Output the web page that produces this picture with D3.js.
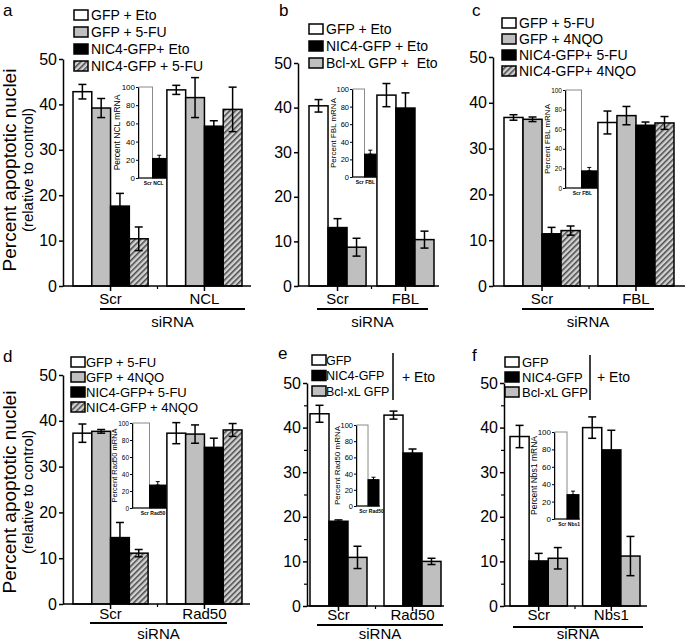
<!DOCTYPE html>
<html>
<head>
<meta charset="utf-8">
<script src="https://cdn.jsdelivr.net/npm/d3@7"></script>
<style>
body { margin: 0; background: #fff; }
text { font-family: "Liberation Sans", Arial, sans-serif; fill: #000; }
</style>
</head>
<body>
<div id="chart"></div>
<script>
// ---- data ----
const yTicks = [0, 10, 20, 30, 40, 50];
const yMinor = [5, 15, 25, 35, 45];
const insetTicks = [0, 20, 40, 60, 80, 100];

// panel a
const groupsA = ["Scr", "NCL"];
const seriesA = ["GFP + Eto", "GFP + 5-FU", "NIC4-GFP+ Eto", "NIC4-GFP + 5-FU"];
const meansA = [[42.8, 39.2, 17.6, 10.4], [43.2, 41.5, 35.2, 38.9]];
const errsA = [[1.6, 2.1, 2.8, 2.6], [1.0, 4.4, 1.2, 4.9]];
const insetA = [100, 21.5];
const insetErrA = [0, 3.5];

// panel b
const groupsB = ["Scr", "FBL"];
const seriesB = ["GFP + Eto", "NIC4-GFP + Eto", "Bcl-xL GFP +  Eto"];
const meansB = [[40.4, 13.1, 8.7], [42.8, 39.9, 10.4]];
const errsB = [[1.4, 2.0, 2.0], [2.6, 3.4, 1.9]];
const insetB = [100, 26];
const insetErrB = [0, 4.5];

// panel c
const groupsC = ["Scr", "FBL"];
const seriesC = ["GFP + 5-FU", "GFP + 4NQO", "NIC4-GFP+ 5-FU", "NIC4-GFP+ 4NQO"];
const meansC = [[36.8, 36.4, 11.4, 12.1], [35.7, 37.2, 35.1, 35.6]];
const errsC = [[0.6, 0.5, 1.4, 1.0], [2.5, 2.0, 0.7, 1.4]];
const insetC = [100, 17.5];
const insetErrC = [0, 3.5];

// panel d
const groupsD = ["Scr", "Rad50"];
const seriesD = ["GFP + 5-FU", "GFP + 4NQO", "NIC4-GFP+ 5-FU", "NIC4-GFP + 4NQO"];
const meansD = [[37.3, 37.7, 14.5, 11.1], [37.3, 37.1, 34.2, 38.0]];
const errsD = [[2.0, 0.4, 3.3, 0.8], [2.3, 2.0, 2.0, 1.4]];
const insetD = [100, 27];
const insetErrD = [0, 4];

// panel e
const groupsE = ["Scr", "Rad50"];
const seriesE = ["GFP", "NIC4-GFP", "Bcl-xL GFP"];
const meansE = [[43.1, 19.0, 10.9], [42.8, 34.3, 10.0]];
const errsE = [[1.9, 0.3, 2.5], [0.9, 0.9, 0.7]];
const insetE = [100, 32.5];
const insetErrE = [0, 3];

// panel f
const groupsF = ["Scr", "Nbs1"];
const seriesF = ["GFP", "NIC4-GFP", "Bcl-xL GFP"];
const meansF = [[38.0, 10.1, 10.7], [40.0, 35.0, 11.2]];
const errsF = [[2.5, 1.7, 2.4], [2.4, 4.4, 4.4]];
const insetF = [100, 28];
const insetErrF = [0, 4];

// ---- styles ----
const WH = "#fff", GR = "#bfbfbf", BK = "#000", HT = "url(#hatch)";
const font = '"Liberation Sans", Arial, sans-serif';

const svg = d3.select("#chart").append("svg")
  .attr("width", 685).attr("height", 642)

const pat = svg.append("defs").append("pattern")
  .attr("id", "hatch")
  .attr("patternUnits", "userSpaceOnUse")
  .attr("width", 4).attr("height", 4)
  .attr("patternTransform", "rotate(45)")
pat.append("rect").attr("width", 4).attr("height", 4).attr("fill", "#d2d2d2")
pat.append("line").attr("x1", 0.8).attr("x2", 0.8).attr("y1", 0).attr("y2", 4)
  .attr("stroke", "#3c3c3c").attr("stroke-width", 1.4)

const panels = [
  { key: "a", groups: groupsA, series: seriesA, means: meansA, errs: errsA, inset: insetA, insetErr: insetErrA,
    insetTitle: "Percent NCL mRNA", fills: [WH, GR, BK, HT],
    lay: { letter: [3, 16], ax: 63, axEnd: 251, y0: 286, y50: 59, gRange: [73, 242], pad: 0.2, minor: false,
      catY: 304, line: [100, 245, 309], siY: 327,
      leg: { x: 74, y: 15, dy: 17, tx: 91, fs: 14 },
      ins: { ax: 138, y0: 178, y100: 87, x: [139, 166], tb: 120, fs: 8, ts: 8.5 }, ytitle: 170 } },
  { key: "b", groups: groupsB, series: seriesB, means: meansB, errs: errsB, inset: insetB, insetErr: insetErrB,
    insetTitle: "Percent FBL mRNA", fills: [WH, BK, GR],
    lay: { letter: [279, 16], ax: 298, axEnd: 439, y0: 286, y50: 63, gRange: [309, 434], pad: 0.16, minor: false,
      catY: 304, line: [317, 428, 309], siY: 327,
      leg: { x: 309, y: 29, dy: 17, tx: 326, fs: 14 },
      ins: { ax: 352, y0: 177, y100: 89, x: [353, 376], tb: 336, fs: 7.5, ts: 8 } } },
  { key: "c", groups: groupsC, series: seriesC, means: meansC, errs: errsC, inset: insetC, insetErr: insetErrC,
    insetTitle: "Percent FBL mRNA", fills: [WH, GR, BK, HT],
    lay: { letter: [472, 16], ax: 493, axEnd: 685, y0: 286, y50: 57, gRange: [504, 674], pad: 0.19, minor: false,
      catY: 304, line: [522, 654, 309], siY: 327,
      leg: { x: 502, y: 23, dy: 16, tx: 519, fs: 14 },
      ins: { ax: 565, y0: 188, y100: 90, x: [566, 597], tb: 550, fs: 6.5, ts: 8 } } },
  { key: "d", groups: groupsD, series: seriesD, means: meansD, errs: errsD, inset: insetD, insetErr: insetErrD,
    insetTitle: "Percent Rad50 mRNA", fills: [WH, GR, BK, HT],
    lay: { letter: [3, 362], ax: 63, axEnd: 250, y0: 604, y50: 375, gRange: [73, 242], pad: 0.2, minor: false,
      catY: 619, line: [90, 227, 623], siY: 638.5,
      leg: { x: 71, y: 362, dy: 15, tx: 86, fs: 13 },
      ins: { ax: 132, y0: 508, y100: 423, x: [133, 166], tb: 117, fs: 6.5, ts: 7.5 }, ytitle: 492 } },
  { key: "e", groups: groupsE, series: seriesE, means: meansE, errs: errsE, inset: insetE, insetErr: insetErrE,
    insetTitle: "Percent Rad50 mRNA", fills: [WH, BK, GR],
    lay: { letter: [278, 359], ax: 307, axEnd: 444, y0: 606, y50: 383, gRange: [310, 441], pad: 0.23, minor: true,
      catY: 620, line: [317, 443, 625], siY: 638.5,
      leg: { x: 312, y: 360, dy: 15.5, tx: 326, fs: 12.5, bracket: [393, 353, 400, 402, 377] },
      ins: { ax: 356, y0: 506, y100: 425, x: [357, 379], tb: 340, fs: 7.5, ts: 8 } } },
  { key: "f", groups: groupsF, series: seriesF, means: meansF, errs: errsF, inset: insetF, insetErr: insetErrF,
    insetTitle: "Percent Nbs1 mRNA", fills: [WH, BK, GR],
    lay: { letter: [472, 361], ax: 504, axEnd: 647, y0: 606, y50: 383, gRange: [510, 640], pad: 0.21, minor: true,
      catY: 620, line: [513, 643, 627], siY: 638.5,
      leg: { x: 505, y: 362, dy: 15, tx: 522, fs: 13, bracket: [590, 355, 400, 597, 377] },
      ins: { ax: 554, y0: 519, y100: 432, x: [555, 579], tb: 537, fs: 8, ts: 8.5 } } }
]

function errorBar(g, cx, yTop, yBot, cap, sw) {
  g.append("line").attr("x1", cx).attr("x2", cx).attr("y1", yTop).attr("y2", yBot)
    .attr("stroke", "#000").attr("stroke-width", sw)
  g.append("line").attr("x1", cx - cap).attr("x2", cx + cap).attr("y1", yTop).attr("y2", yTop)
    .attr("stroke", "#000").attr("stroke-width", sw)
  g.append("line").attr("x1", cx - cap).attr("x2", cx + cap).attr("y1", yBot).attr("y2", yBot)
    .attr("stroke", "#000").attr("stroke-width", sw)
}

function drawPanel(p) {
  const L = p.lay
  const g = svg.append("g")
  const y = d3.scaleLinear().domain([0, 50]).range([L.y0, L.y50])
  const x0 = d3.scaleBand().domain(p.groups).range(L.gRange).paddingInner(L.pad)
  const x1 = d3.scaleBand().domain(p.series).range([0, x0.bandwidth()])

  // bars
  p.groups.forEach((grp, i) => {
    p.series.forEach((s, j) => {
      const v = p.means[i][j]
      g.append("rect")
        .attr("x", x0(grp) + x1(s))
        .attr("y", y(v))
        .attr("width", x1.bandwidth())
        .attr("height", y(0) - y(v))
        .attr("fill", p.fills[j])
        .attr("stroke", "#000")
        .attr("stroke-width", 1.5)
    })
  })
  // error bars
  p.groups.forEach((grp, i) => {
    p.series.forEach((s, j) => {
      const v = p.means[i][j], e = p.errs[i][j]
      errorBar(g, x0(grp) + x1(s) + x1.bandwidth() / 2, y(v + e), y(v - e), 4, 1.5)
    })
  })

  // y axis
  const ya = g.append("g").attr("transform", `translate(${L.ax},0)`)
    .call(d3.axisLeft(y).tickValues(yTicks).tickSize(4).tickSizeOuter(0).tickPadding(2))
  ya.attr("font-family", font).attr("font-size", 16)
  ya.selectAll("path, line").attr("stroke-width", 1.5)
  if (L.minor) {
    g.append("g").attr("transform", `translate(${L.ax},0)`)
      .call(d3.axisLeft(y).tickValues(yMinor).tickSize(3).tickSizeOuter(0).tickFormat(""))
      .call(a => a.select(".domain").remove())
      .selectAll("line").attr("stroke-width", 1.2)
  }

  // x axis line and ticks
  g.append("line").attr("x1", L.ax).attr("x2", L.axEnd).attr("y1", y(0)).attr("y2", y(0))
    .attr("stroke", "#000").attr("stroke-width", 1.5)
  const centers = p.groups.map(grp => x0(grp) + x0.bandwidth() / 2)
  const mid = (x0(p.groups[0]) + x0.bandwidth() + x0(p.groups[1])) / 2
  centers.forEach(cx => {
    g.append("line").attr("x1", cx).attr("x2", cx).attr("y1", y(0)).attr("y2", y(0) + 5)
      .attr("stroke", "#000").attr("stroke-width", 1.5)
  })
  g.append("line").attr("x1", mid).attr("x2", mid).attr("y1", y(0)).attr("y2", y(0) + 3)
    .attr("stroke", "#000").attr("stroke-width", 1.2)

  // category labels
  p.groups.forEach((grp, i) => {
    g.append("text").attr("x", centers[i]).attr("y", L.catY)
      .attr("text-anchor", "middle").attr("font-size", 15).text(grp)
  })
  g.append("line").attr("x1", L.line[0]).attr("x2", L.line[1]).attr("y1", L.line[2]).attr("y2", L.line[2])
    .attr("stroke", "#000").attr("stroke-width", 2)
  g.append("text").attr("x", (L.line[0] + L.line[1]) / 2).attr("y", L.siY)
    .attr("text-anchor", "middle").attr("font-size", 15).text("siRNA")

  // panel letter
  g.append("text").attr("x", L.letter[0]).attr("y", L.letter[1])
    .attr("font-size", 17).text(p.key)

  // legend
  const lg = L.leg
  p.series.forEach((s, j) => {
    const cy = lg.y + j * lg.dy
    g.append("rect").attr("x", lg.x).attr("y", cy - 5).attr("width", 14).attr("height", 10)
      .attr("fill", p.fills[j]).attr("stroke", "#000").attr("stroke-width", 1.5)
    g.append("text").attr("x", lg.tx).attr("y", cy).attr("dy", "0.36em")
      .attr("font-size", lg.fs).attr("xml:space", "preserve").text(s)
  })
  if (lg.bracket) {
    const b = lg.bracket
    g.append("line").attr("x1", b[0]).attr("x2", b[0]).attr("y1", b[1]).attr("y2", b[2])
      .attr("stroke", "#000").attr("stroke-width", 1.5)
    g.append("text").attr("x", b[3]).attr("y", b[4]).attr("dy", "0.36em")
      .attr("font-size", 14).text("+ Eto")
  }

  // y title
  if (L.ytitle) {
    g.append("text").attr("transform", `translate(16,${L.ytitle}) rotate(-90)`)
      .attr("text-anchor", "middle").attr("font-size", 19).text("Percent apoptotic nuclei")
    g.append("text").attr("transform", `translate(33,${L.ytitle}) rotate(-90)`)
      .attr("text-anchor", "middle").attr("font-size", 15).text("(relative to control)")
  }

  // inset
  const I = L.ins
  const iy = d3.scaleLinear().domain([0, 100]).range([I.y0, I.y100])
  const ix = d3.scaleBand().domain(p.groups).range(I.x)
  p.groups.forEach((grp, i) => {
    g.append("rect")
      .attr("x", ix(grp)).attr("y", iy(p.inset[i]))
      .attr("width", ix.bandwidth()).attr("height", iy(0) - iy(p.inset[i]))
      .attr("fill", i === 0 ? "#fff" : "#000")
      .attr("stroke", i === 0 ? "#8a8a8a" : "#000").attr("stroke-width", 1)
    if (p.insetErr[i] > 0) {
      errorBar(g, ix(grp) + ix.bandwidth() / 2, iy(p.inset[i] + p.insetErr[i]), iy(p.inset[i]), 2, 1)
    }
  })
  // inset category labels, pushed apart at the bar boundary
  const split = ix(p.groups[1])
  g.append("text").attr("x", split - 0.8).attr("y", I.y0 + 7)
    .attr("text-anchor", "end").attr("font-size", 5).attr("font-weight", "bold").text(p.groups[0])
  g.append("text").attr("x", split + 0.8).attr("y", I.y0 + 7)
    .attr("text-anchor", "start").attr("font-size", 5).attr("font-weight", "bold").text(p.groups[1])

  const ia = g.append("g").attr("transform", `translate(${I.ax},0)`)
    .call(d3.axisLeft(iy).tickValues(insetTicks).tickSize(2).tickSizeOuter(0).tickPadding(1))
  ia.attr("font-family", font).attr("font-size", I.fs)
  ia.selectAll("path, line").attr("stroke-width", 1)
  g.append("line").attr("x1", I.ax).attr("x2", I.x[1] + 1).attr("y1", iy(0)).attr("y2", iy(0))
    .attr("stroke", "#000").attr("stroke-width", 1)
  g.append("text").attr("transform", `translate(${I.tb},${(I.y0 + I.y100) / 2}) rotate(-90)`)
    .attr("text-anchor", "middle").attr("font-size", I.ts).text(p.insetTitle)
}

panels.forEach(drawPanel)
</script>
</body>
</html>
